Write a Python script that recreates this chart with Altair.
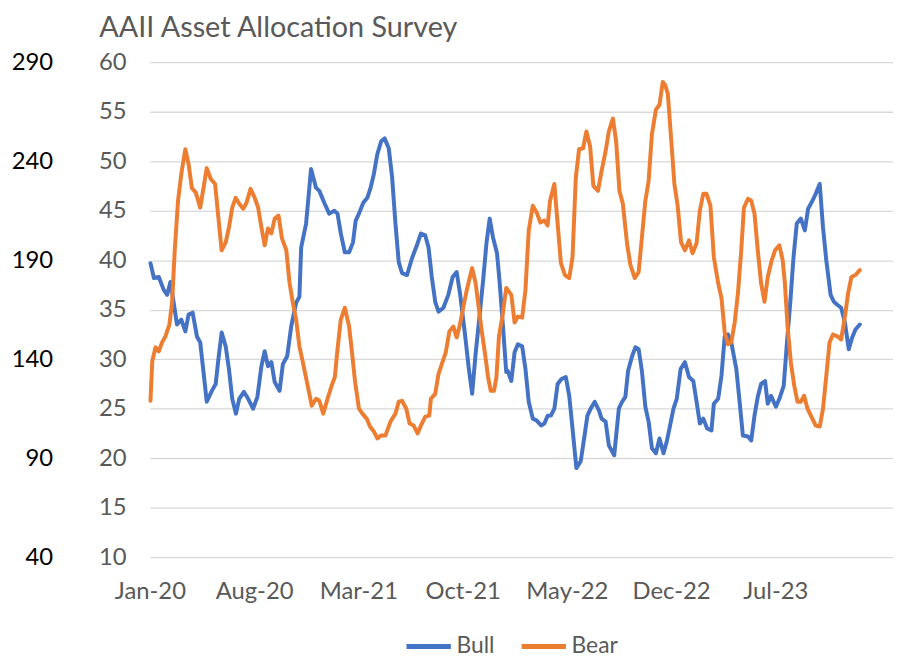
import altair as alt
import pandas as pd

# ---- data (months since Jan-2020, percent) ----
bull_month = [0.04, 0.27, 0.6, 0.93, 1.16, 1.38, 1.6, 1.82, 2.11, 2.38, 2.6, 2.87, 3.16, 3.38, 3.6, 3.82, 4.16, 4.42, 4.6, 4.82,
              5.09, 5.31, 5.53, 5.78, 6.0, 6.31, 6.6, 6.93, 7.22, 7.49, 7.71, 7.93,
              8.16, 8.38, 8.71, 8.93, 9.22, 9.49, 9.82, 10.04, 10.16, 10.49, 10.82, 11.16, 11.38, 11.71, 12.04, 12.38, 12.6, 12.82,
              13.09, 13.38, 13.64, 13.82, 14.04, 14.33, 14.6, 14.82, 15.04, 15.27, 15.53, 15.76,
              16.04, 16.27, 16.49, 16.71, 16.93, 17.27, 17.6, 17.93, 18.2, 18.49, 18.71, 18.93, 19.16, 19.38, 19.71, 20.04, 20.33, 20.6,
              20.82, 21.16, 21.42, 21.64, 21.87, 22.16, 22.38, 22.6, 22.82, 23.04, 23.31, 23.49, 23.71, 23.93,
              24.04, 24.27, 24.49, 24.71, 25.0, 25.22, 25.44, 25.71, 25.98, 26.27, 26.49, 26.71, 26.93, 27.16, 27.38, 27.64, 27.93, 28.16,
              28.38, 28.64, 28.93, 29.16, 29.38, 29.6, 29.87, 30.16, 30.33, 30.6, 30.82, 31.18,
              31.49, 31.71, 31.93, 32.11, 32.38, 32.6, 32.82, 33.04, 33.27, 33.49, 33.71, 33.98, 34.22, 34.49, 34.71, 34.93, 35.16, 35.38,
              35.64, 35.93, 36.2, 36.49, 36.71, 36.93, 37.16, 37.42, 37.71, 37.87, 38.16, 38.38, 38.6, 38.82, 39.04, 39.38, 39.6, 39.82,
              40.16, 40.38, 40.6, 40.82, 41.04, 41.31, 41.49, 41.71, 42.04, 42.27, 42.56, 42.78, 43.0, 43.22, 43.44, 43.71, 43.98, 44.2,
              44.49, 44.71, 44.98, 45.2, 45.42, 45.71, 45.93, 46.16, 46.42, 46.67, 46.93, 47.16, 47.38, 47.67]
bull_value = [39.7, 38.2, 38.3, 37.0, 36.5, 37.8, 35.7, 33.5, 34.0, 32.8, 34.5, 34.7, 32.3, 31.7, 28.7, 25.7, 26.8, 27.5, 30.0, 32.7,
              31.3, 29.0, 26.0, 24.5, 26.0, 26.7, 26.0, 25.0, 26.2, 29.3, 30.8, 29.3,
              29.7, 27.7, 26.8, 29.5, 30.3, 33.3, 35.7, 36.3, 41.3, 43.7, 49.2, 47.3, 47.0, 45.8, 44.7, 45.0, 44.7, 42.7,
              40.8, 40.8, 41.8, 44.0, 44.7, 45.8, 46.3, 47.3, 48.7, 50.7, 52.0, 52.3,
              51.3, 48.3, 43.7, 39.8, 38.7, 38.5, 40.2, 41.5, 42.7, 42.5, 41.3, 38.3, 35.8, 34.8, 35.2, 36.5, 38.3, 38.8,
              36.7, 32.5, 29.0, 26.5, 30.5, 34.7, 38.0, 41.7, 44.2, 42.3, 40.7, 37.7, 33.3, 28.7,
              28.8, 27.8, 30.7, 31.5, 31.3, 29.0, 25.7, 24.0, 23.8, 23.3, 23.5, 24.3, 24.3, 25.0, 27.5, 28.0, 28.2, 26.3,
              23.0, 19.0, 19.7, 22.0, 24.3, 25.0, 25.7, 24.8, 24.0, 23.7, 21.3, 20.3,
              25.0, 25.7, 26.2, 28.8, 30.3, 31.2, 31.0, 28.8, 25.2, 23.7, 21.0, 20.5, 22.0, 20.5, 21.7, 23.3, 25.0, 26.0,
              29.0, 29.7, 28.2, 27.8, 25.7, 23.5, 24.0, 23.0, 22.8, 25.5, 26.0, 28.3, 32.3, 32.5, 31.7, 29.0, 25.7, 22.3,
              22.2, 21.8, 24.3, 26.2, 27.5, 27.8, 25.5, 26.3, 25.2, 26.0, 27.3, 31.7, 35.7, 40.3, 43.7, 44.2, 43.0, 45.2,
              46.0, 46.7, 47.7, 43.3, 40.0, 36.5, 35.8, 35.5, 35.2, 33.7, 31.0, 32.2, 33.0, 33.5]

bear_month = [0.04, 0.16, 0.38, 0.6, 0.82, 1.04, 1.31, 1.49, 1.67, 1.89, 2.11, 2.38, 2.6, 2.82, 3.09, 3.38, 3.6, 3.82, 4.09, 4.38,
              4.6, 4.82, 5.09, 5.31, 5.53, 5.76, 6.0, 6.27, 6.49, 6.76, 7.04, 7.27, 7.49, 7.71, 7.93,
              8.16, 8.38, 8.64, 8.87, 9.16, 9.38, 9.6, 9.82, 10.04, 10.27, 10.6, 10.87, 11.16, 11.38, 11.64, 11.93, 12.2, 12.42,
              12.6, 12.82, 13.09, 13.38, 13.6, 13.78, 14.04, 14.27, 14.56, 14.78, 15.04, 15.27, 15.53, 15.82,
              16.16, 16.49, 16.71, 16.93, 17.22, 17.44, 17.71, 17.98, 18.2, 18.49, 18.76, 18.87, 19.16, 19.38, 19.6, 19.87, 20.11,
              20.38, 20.6, 20.82, 21.04, 21.31, 21.64, 21.87, 22.04, 22.27, 22.49, 22.71, 22.89, 23.11, 23.27, 23.44, 23.67, 23.93,
              24.27, 24.49, 24.71, 25.0, 25.22, 25.44, 25.71, 25.98, 26.22, 26.49, 26.71, 26.87, 27.16, 27.38, 27.6, 27.87, 28.16,
              28.38, 28.6, 28.82, 29.09, 29.31, 29.56, 29.78, 30.09, 30.33, 30.6, 30.82, 31.09, 31.31, 31.53, 31.76,
              32.04, 32.27, 32.56, 32.82, 33.04, 33.27, 33.49, 33.71, 33.98, 34.22, 34.44, 34.6, 34.78, 35.0, 35.22, 35.44, 35.67,
              35.93, 36.2, 36.44, 36.71, 36.93, 37.16, 37.38, 37.64, 37.87, 38.16, 38.38, 38.6, 38.82, 39.04, 39.27, 39.49, 39.71, 39.89,
              40.16, 40.38, 40.6, 40.82, 41.04, 41.27, 41.49, 41.76, 41.98, 42.27, 42.49, 42.64, 42.82, 43.04, 43.27, 43.49, 43.71,
              43.93, 44.16, 44.42, 44.71, 44.98, 45.2, 45.42, 45.64, 45.87, 46.16, 46.42, 46.67, 46.89, 47.11, 47.38, 47.67]
bear_value = [25.8, 29.8, 31.2, 30.8, 31.7, 32.3, 33.5, 35.7, 41.0, 46.0, 48.7, 51.2, 49.7, 47.3, 46.8, 45.3, 47.3, 49.3, 48.2, 47.7,
              44.3, 41.0, 41.8, 43.3, 45.3, 46.3, 45.7, 45.2, 45.8, 47.2, 46.3, 45.3, 43.3, 41.5, 43.2,
              42.7, 44.2, 44.5, 42.2, 41.0, 37.7, 35.7, 34.0, 31.3, 29.7, 27.3, 25.3, 26.0, 25.8, 24.5, 26.0, 27.3, 28.2,
              31.0, 34.0, 35.2, 33.3, 30.3, 27.7, 25.0, 24.5, 24.0, 23.2, 22.7, 22.0, 22.3, 22.3,
              23.7, 24.5, 25.7, 25.8, 25.0, 23.5, 23.3, 22.5, 23.3, 24.2, 24.3, 26.0, 26.5, 28.5, 29.5, 30.7, 32.8,
              33.3, 32.2, 33.5, 35.2, 37.2, 39.2, 37.7, 35.7, 33.0, 30.7, 28.2, 26.8, 26.8, 28.2, 32.3, 34.3, 37.2,
              36.5, 33.7, 34.3, 34.2, 37.0, 43.0, 45.5, 44.8, 43.8, 44.0, 43.5, 46.0, 47.7, 43.7, 39.7, 38.5, 38.2,
              40.3, 48.3, 51.2, 51.3, 53.0, 51.5, 47.5, 47.0, 49.0, 51.0, 53.0, 54.3, 52.0, 47.0, 45.7,
              41.7, 39.5, 38.2, 38.8, 42.3, 46.0, 48.0, 52.7, 55.2, 55.7, 58.0, 57.7, 56.8, 52.3, 47.7, 45.5, 41.8,
              41.0, 42.0, 40.7, 41.7, 45.0, 46.7, 46.7, 45.5, 40.3, 37.7, 36.2, 32.7, 31.5, 31.7, 33.7, 36.7, 41.0, 45.3,
              46.2, 46.0, 44.7, 41.0, 37.7, 35.8, 38.3, 40.0, 41.0, 41.5, 40.0, 37.7, 33.3, 29.7, 27.3, 25.7, 25.7,
              26.3, 25.0, 24.2, 23.3, 23.2, 25.0, 28.3, 31.7, 32.5, 32.3, 32.0, 34.3, 36.7, 38.3, 38.5, 39.0]

series_names = ["Bull", "Bear"]
series_colors = ["#4472C4", "#ED7D31"]

x_tick_months = [0, 7, 14, 21, 28, 35, 42]
x_tick_labels = ["Jan-20", "Aug-20", "Mar-21", "Oct-21", "May-22", "Dec-22", "Jul-23"]

y_ticks = [10, 15, 20, 25, 30, 35, 40, 45, 50, 55, 60]
y2_ticks = [40, 90, 140, 190, 240, 290]

# ---- tables ----
df = pd.concat([
    pd.DataFrame({"month": bull_month, "value": bull_value, "series": "Bull"}),
    pd.DataFrame({"month": bear_month, "value": bear_value, "series": "Bear"}),
], ignore_index=True)
df2 = pd.DataFrame({"v": y2_ticks})

label_expr = " : ".join(
    f"datum.value == {m} ? '{l}'" for m, l in zip(x_tick_months, x_tick_labels)
) + " : ''"

FONT = "Lato"
GREY = "#595959"

lines = alt.Chart(df).mark_line(strokeWidth=4, strokeCap="round", strokeJoin="round").encode(
    x=alt.X("month:Q",
            scale=alt.Scale(domain=[0, 49.9], nice=False, zero=False),
            axis=alt.Axis(values=x_tick_months, labelExpr=label_expr, title=None,
                          grid=False, domain=False, ticks=False, labelPadding=23,
                          labelOverlap=False, labelFlush=False,
                          labelFontSize=24, labelColor=GREY, labelFont=FONT)),
    y=alt.Y("value:Q",
            scale=alt.Scale(domain=[10, 60], nice=False, zero=False),
            axis=alt.Axis(values=y_ticks, title=None, grid=True, gridColor="#D9D9D9", gridWidth=1.3,
                          domain=False, ticks=False, labelPadding=24, labelOverlap=False,
                          labelFontSize=24, labelColor=GREY, labelFont=FONT)),
    color=alt.Color("series:N",
                    scale=alt.Scale(domain=series_names, range=series_colors),
                    sort=series_names,
                    legend=alt.Legend(title=None, orient="none", direction="horizontal",
                                      legendX=256, legendY=564,
                                      symbolType="stroke", symbolSize=2000, symbolStrokeWidth=5,
                                      labelFontSize=23, labelColor=GREY, labelFont=FONT,
                                      labelOffset=3, columnPadding=16)),
    order="month:Q",
)

outer = alt.Chart(df2).mark_point(opacity=0).encode(
    y=alt.Y("v:Q",
            scale=alt.Scale(domain=[40, 290], nice=False, zero=False),
            axis=alt.Axis(values=y2_ticks, title=None, orient="left", offset=90, grid=False,
                          domain=False, ticks=False, labelPadding=8, labelOverlap=False,
                          labelFontSize=24, labelColor="#000000", labelFont=FONT)),
)

chart = alt.layer(lines, outer).resolve_scale(y="independent").properties(
    width=749,
    height=499,
    title=alt.TitleParams("AAII Asset Allocation Survey", anchor="start", frame="group",
                          dx=-51, fontSize=29, font=FONT, color=GREY, fontWeight="normal", offset=7),
    autosize=alt.AutoSizeParams(type="none"),
    padding={"left": 143, "top": 52, "right": 0, "bottom": 100},
).configure_view(stroke=None)

chart.save("out.html", embed_options={"renderer": "svg", "actions": False})
